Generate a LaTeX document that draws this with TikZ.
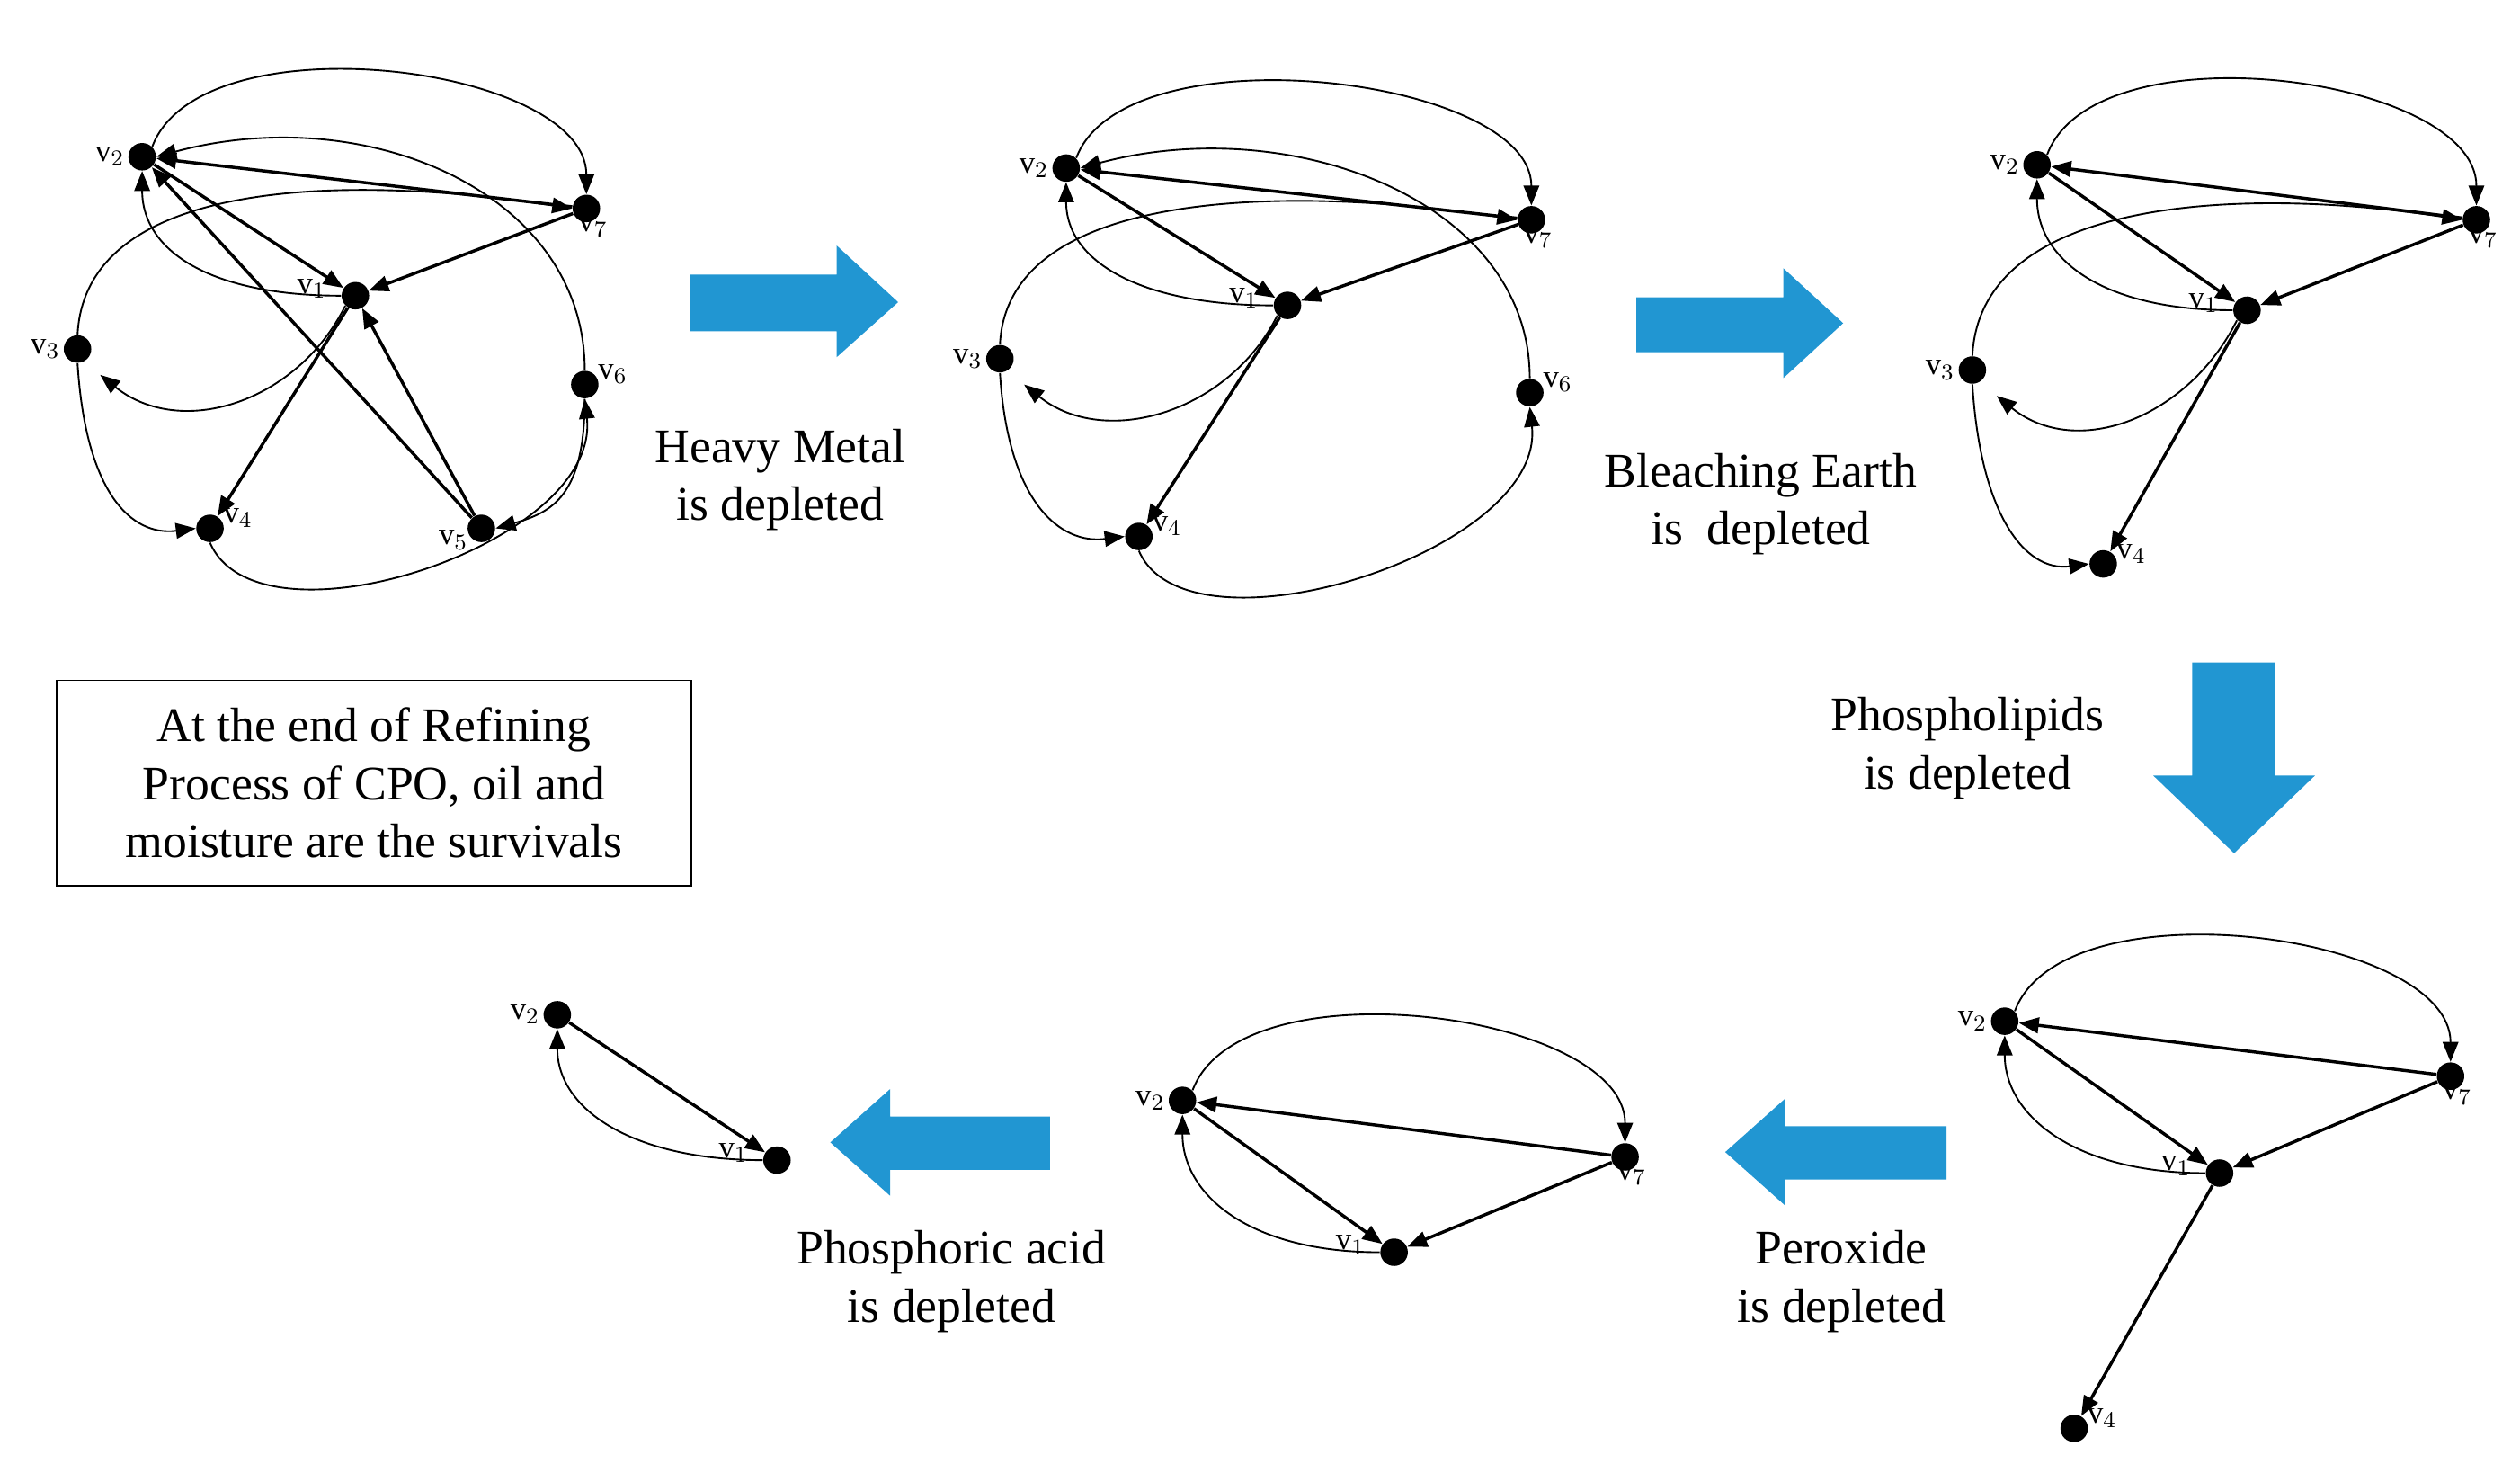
\documentclass[tikz,border=0pt]{standalone}
\usepackage{fontspec}
\setmainfont{Liberation Serif}
\usetikzlibrary{arrows.meta,calc,positioning}
\begin{document}
\begin{tikzpicture}[x=0.02cm,y=-0.02cm,
 v/.style={circle,fill=black,inner sep=0pt,minimum width=0.28cm,minimum height=0.34cm},
 lab/.style={font=\fontsize{11}{12}\selectfont,inner sep=1pt},
 tip/.style={-{Triangle[length=7pt,width=5.5pt]}},
 st/.style={tip,line width=1.1pt},
 cv/.style={tip,line width=0.6pt},
 big/.style={fill=blueA,draw=none},
 txt/.style={font=\fontsize{17}{20.5}\selectfont,align=center}]
\definecolor{blueA}{RGB}{33,150,210}
\useasboundingbox (0,0) rectangle (1560,911.6);
% ---------- graph 1
\node[v] (a2) at (88,97) {}; \node[lab,left] at (a2.west) {$\mathrm{v}_2$};
\node[v] (a7) at (363,129) {}; \node[lab,below right=-3pt and -4pt] at (a7.south) {$\mathrm{v}_7$};
\node[v] (a1) at (220,183) {}; \node[lab,above left=-2pt and 4pt] at (a1.west) {$\mathrm{v}_1$};
\node[v] (a3) at (48,216) {}; \node[lab,left] at (a3.west) {$\mathrm{v}_3$};
\node[v] (a6) at (362,238) {}; \node[lab,right] at (a6.north east) {$\mathrm{v}_6$};
\node[v] (a4) at (130,327) {}; \node[lab,right] at (a4.north east) {$\mathrm{v}_4$};
\node[v] (a5) at (298,327) {}; \node[lab,below left=-4pt and 0pt] at (a5.south west) {$\mathrm{v}_5$};
\coordinate (a3e) at (62,232);
\draw[cv] (a2.north east) .. controls +(30,-80) and +(0,-80) .. (a7.north);
\draw[cv] (a6.north) .. controls +(0,-110) and +(130,-35) .. (a2.east);
\draw[st] (a7) -- (a2);
\draw[cv] (a3.north) .. controls +(5,-100) and +(-130,-20) .. (a7.west);
\draw[st] (a2) -- (a1);
\draw[st] (a7) -- (a1);
\draw[cv] (a1.west) .. controls +(-80,0) and +(0,50) .. (a2.south);
\draw[cv] (a1.south west) .. controls +(-30,60) and +(50,40) .. (a3e);
\draw[st] (a1) -- (a4);
\draw[st] (a5) -- (a2);
\draw[st] (a5) -- (a1);
\draw[cv] (a6.south) .. controls +(0,60) and +(35,-10) .. (a5.east);
\draw[cv] (a4.south) .. controls +(30,70) and +(10,90) .. (a6.south);
\draw[cv] (a3.south) .. controls +(5,80) and +(-40,5) .. (a4.west);
% ---------- graph 2
\node[v] (b2) at (660,104) {}; \node[lab,left] at (b2.west) {$\mathrm{v}_2$};
\node[v] (b7) at (948,136) {}; \node[lab,below right=-3pt and -4pt] at (b7.south) {$\mathrm{v}_7$};
\node[v] (b1) at (797,189) {}; \node[lab,above left=-2pt and 4pt] at (b1.west) {$\mathrm{v}_1$};
\node[v] (b3) at (619,222) {}; \node[lab,left] at (b3.west) {$\mathrm{v}_3$};
\node[v] (b6) at (947,243) {}; \node[lab,right] at (b6.north east) {$\mathrm{v}_6$};
\node[v] (b4) at (705,332) {}; \node[lab,right] at (b4.north east) {$\mathrm{v}_4$};
\coordinate (b3e) at (634,238);
\draw[cv] (b2.north east) .. controls +(30,-80) and +(0,-80) .. (b7.north);
\draw[cv] (b6.north) .. controls +(0,-110) and +(130,-35) .. (b2.east);
\draw[st] (b7) -- (b2);
\draw[cv] (b3.north) .. controls +(5,-100) and +(-130,-20) .. (b7.west);
\draw[st] (b2) -- (b1);
\draw[st] (b7) -- (b1);
\draw[cv] (b1.west) .. controls +(-80,0) and +(0,50) .. (b2.south);
\draw[cv] (b1.south west) .. controls +(-30,60) and +(50,40) .. (b3e);
\draw[st] (b1) -- (b4);
\draw[cv] (b4.south) .. controls +(30,70) and +(10,90) .. (b6.south);
\draw[cv] (b3.south) .. controls +(5,80) and +(-40,5) .. (b4.west);
% ---------- graph 3
\node[v] (c2) at (1261,102) {}; \node[lab,left] at (c2.west) {$\mathrm{v}_2$};
\node[v] (c7) at (1533,136) {}; \node[lab,below right=-3pt and -4pt] at (c7.south) {$\mathrm{v}_7$};
\node[v] (c1) at (1391,192) {}; \node[lab,above left=-2pt and 4pt] at (c1.west) {$\mathrm{v}_1$};
\node[v] (c3) at (1221,229) {}; \node[lab,left] at (c3.west) {$\mathrm{v}_3$};
\node[v] (c4) at (1302,349) {}; \node[lab,right] at (c4.north east) {$\mathrm{v}_4$};
\coordinate (c3e) at (1236,245);
\draw[cv] (c2.north east) .. controls +(30,-80) and +(0,-80) .. (c7.north);
\draw[st] (c7) -- (c2);
\draw[cv] (c3.north) .. controls +(5,-100) and +(-130,-20) .. (c7.west);
\draw[st] (c2) -- (c1);
\draw[st] (c7) -- (c1);
\draw[cv] (c1.west) .. controls +(-80,0) and +(0,50) .. (c2.south);
\draw[cv] (c1.south west) .. controls +(-30,60) and +(50,40) .. (c3e);
\draw[st] (c1) -- (c4);
\draw[cv] (c3.south) .. controls +(5,80) and +(-40,5) .. (c4.west);
% ---------- graph 4
\node[v] (d2) at (1241,632) {}; \node[lab,left] at (d2.west) {$\mathrm{v}_2$};
\node[v] (d7) at (1517,666) {}; \node[lab,below right=-3pt and -4pt] at (d7.south) {$\mathrm{v}_7$};
\node[v] (d1) at (1374,726) {}; \node[lab,above left=-2pt and 4pt] at (d1.west) {$\mathrm{v}_1$};
\node[v] (d4) at (1284,884) {}; \node[lab,right] at (d4.north east) {$\mathrm{v}_4$};
\draw[cv] (d2.north east) .. controls +(30,-80) and +(0,-80) .. (d7.north);
\draw[st] (d7) -- (d2);
\draw[st] (d2) -- (d1);
\draw[st] (d7) -- (d1);
\draw[cv] (d1.west) .. controls +(-80,0) and +(0,50) .. (d2.south);
\draw[st] (d1) -- (d4);
% ---------- graph 5
\node[v] (e2) at (732,681) {}; \node[lab,left] at (e2.west) {$\mathrm{v}_2$};
\node[v] (e7) at (1006,716) {}; \node[lab,below right=-3pt and -4pt] at (e7.south) {$\mathrm{v}_7$};
\node[v] (e1) at (863,775) {}; \node[lab,above left=-2pt and 4pt] at (e1.west) {$\mathrm{v}_1$};
\draw[cv] (e2.north east) .. controls +(30,-80) and +(0,-80) .. (e7.north);
\draw[st] (e7) -- (e2);
\draw[st] (e2) -- (e1);
\draw[st] (e7) -- (e1);
\draw[cv] (e1.west) .. controls +(-80,0) and +(0,50) .. (e2.south);
% ---------- graph 6
\node[v] (f2) at (345,628) {}; \node[lab,left] at (f2.west) {$\mathrm{v}_2$};
\node[v] (f1) at (481,718) {}; \node[lab,above left=-2pt and 4pt] at (f1.west) {$\mathrm{v}_1$};
\draw[st] (f2) -- (f1);
\draw[cv] (f1.west) .. controls +(-80,0) and +(0,50) .. (f2.south);
% ---------- block arrows
\fill[big] (427,170) -- (518,170) -- (518,152) -- (556,187) -- (518,221) -- (518,205) -- (427,205) -- cycle;
\fill[big] (1013,184) -- (1104,184) -- (1104,166) -- (1141,200) -- (1104,234) -- (1104,218) -- (1013,218) -- cycle;
\fill[big] (1357,410) -- (1408,410) -- (1408,480) -- (1433,480) -- (1383,528) -- (1333,480) -- (1357,480) -- cycle;
\fill[big] (1205,697) -- (1105,697) -- (1105,680) -- (1068,713) -- (1105,746) -- (1105,730) -- (1205,730) -- cycle;
\fill[big] (650,691) -- (551,691) -- (551,674) -- (514,707) -- (551,740) -- (551,724) -- (650,724) -- cycle;
% ---------- texts
\node[txt] (t1) at (483,297) {Heavy Metal\\is depleted};
\node[txt] (t2) at (1090,312) {Bleaching Earth\\is\ \ depleted};
\node[txt] (t3) at (1218,463) {Phospholipids\\is depleted};
\node[txt] (t4) at (1140,793) {Peroxide\\is depleted};
\node[txt] (t5) at (589,793) {Phosphoric acid\\is depleted};
\node[txt,draw,line width=0.6pt,minimum width=7.86cm,minimum height=2.54cm] (box) at (231.5,484.5) {At the end of Refining\\Process of CPO, oil and\\moisture are the survivals};
\end{tikzpicture}
\end{document}
